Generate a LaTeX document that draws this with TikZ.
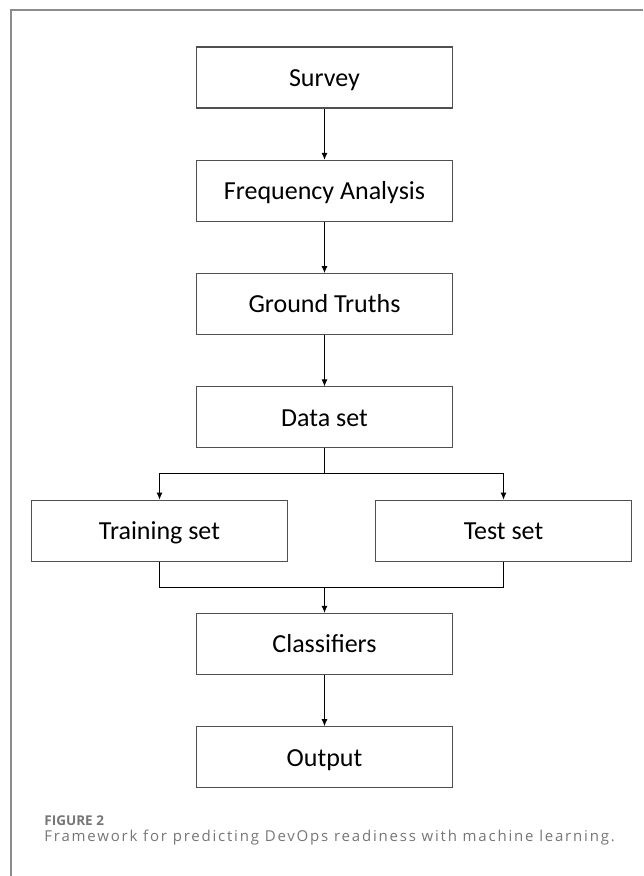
\documentclass[tikz,border=0pt]{standalone}
\usepackage{fontspec}
\setmainfont{Carlito}
\newfontfamily\captionfont[LetterSpace=12]{Open Sans}
\newfontfamily\figlabelfont{Open Sans}
\usetikzlibrary{arrows.meta,positioning,calc}
\definecolor{framegray}{RGB}{140,140,140}
\definecolor{boxgray}{RGB}{80,80,80}
\definecolor{captiongray}{RGB}{118,118,118}
\tikzstyle{block} = [draw=boxgray, line width=1.1pt, rectangle, minimum height=61pt, minimum width=256pt, inner sep=0pt, text height=20pt, text depth=2.4pt, font=\fontsize{26}{30}\selectfont]
\tikzstyle{junction} = [coordinate]
\tikzstyle{caption} = [anchor=base west, inner sep=0pt, text=captiongray]

\begin{document}
\begin{tikzpicture}[x=1pt, y=1pt, node distance=113.3pt, >={Latex[length=7pt,width=6pt]}, line width=0.9pt]
    \useasboundingbox (0,0) rectangle (643,-876);
    % Frame
    \draw [framegray, line width=1.5pt] (11,-876) |- (643,-10);
    % Blocks
    \node [block] (survey) at (324.5,-77.5) {Survey};
    \node [block, below of=survey] (freq) {Frequency Analysis};
    \node [block, below of=freq] (truths) {Ground Truths};
    \node [block, below of=truths] (data) {Data set};
    \node [block, below of=data, xshift=-165pt] (train) {Training set};
    \node [block, below of=data, xshift=179pt] (test) {Test set};
    \node [block, below of=data, node distance=226.5pt] (classif) {Classifiers};
    \node [block, below of=classif] (output) {Output};
    \node [junction, below of=data, node distance=56.5pt] (split) {};
    \node [junction, above of=classif, node distance=56.7pt] (merge) {};
    
    % Connections
    \draw [->] (survey) -- (freq);
    \draw [->] (freq) -- (truths);
    \draw [->] (truths) -- (data);
    \draw (data) -- (split);
    \draw [->] (split) -| (train);
    \draw [->] (split) -| (test);
    \draw (train) |- (merge);
    \draw (test) |- (merge);
    \draw [->] (merge) -- (classif);
    \draw [->] (classif) -- (output);
    
    % Caption
    \node [caption, font=\figlabelfont\bfseries\fontsize{13.5}{15}\selectfont] (fignum) at (44,-825.7) {FIGURE 2};
    \node [caption, font=\captionfont\fontsize{15}{18}\selectfont] (figtext) at (44,-841) {Framework for predicting DevOps readiness with machine learning.};
\end{tikzpicture}
\end{document}
